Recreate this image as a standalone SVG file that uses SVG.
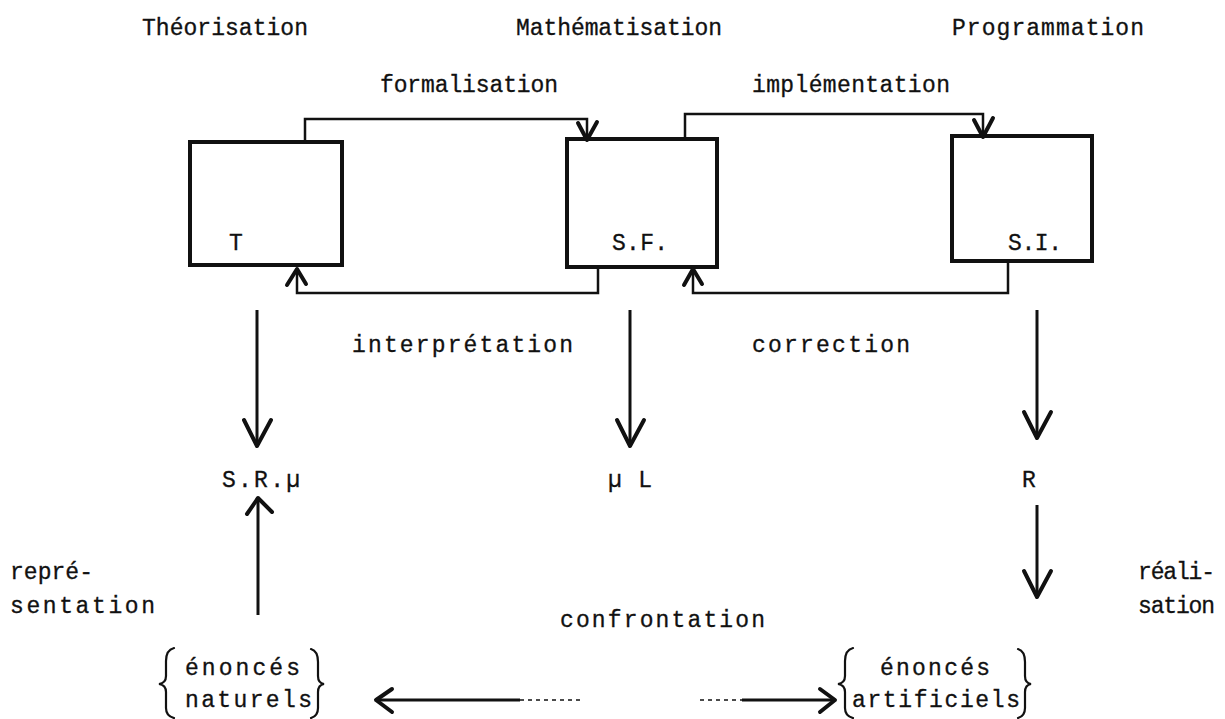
<svg xmlns="http://www.w3.org/2000/svg" width="1225" height="719" viewBox="0 0 1225 719">
  <style>
    text { font-family: "Liberation Mono", "DejaVu Sans Mono", monospace; font-size: 23px; fill: #111; stroke: #111; stroke-width: 0.3; }
    .low { font-size: 23px; }
    .box { fill: none; stroke: #111; stroke-width: 4; stroke-linejoin: miter; }
    .wire { fill: none; stroke: #111; stroke-width: 2.5; }
    .shaft { fill: none; stroke: #111; stroke-width: 3; }
    .head { fill: none; stroke: #111; stroke-width: 4; stroke-linecap: round; stroke-linejoin: round; }
    .brace { fill: none; stroke: #111; stroke-width: 2.2; stroke-linecap: round; }
    .dash { fill: none; stroke: #111; stroke-width: 1.6; stroke-dasharray: 4 4; }
  </style>
  <rect width="1225" height="719" fill="#ffffff"/>

  <!-- column headings -->
  <g id="headings">
    <text x="142" y="35" textLength="166" lengthAdjust="spacing">Théorisation</text>
    <text x="516" y="35" textLength="206" lengthAdjust="spacing">Mathématisation</text>
    <text x="952" y="35" textLength="192" lengthAdjust="spacing">Programmation</text>
  </g>

  <!-- boxes -->
  <g id="node-T">
    <rect class="box" x="190" y="142" width="152" height="123"/>
    <text x="229" y="250">T</text>
  </g>
  <g id="node-SF">
    <rect class="box" x="567" y="139" width="150" height="128"/>
    <text x="612" y="250" textLength="56" lengthAdjust="spacing">S.F.</text>
  </g>
  <g id="node-SI">
    <rect class="box" x="952" y="136" width="140" height="125"/>
    <text x="1008" y="250" textLength="54" lengthAdjust="spacing">S.I.</text>
  </g>

  <!-- intermediate results -->
  <g id="node-SRmu">
    <text x="222" y="487" textLength="78" lengthAdjust="spacing">S.R.µ</text>
  </g>
  <g id="node-muL">
    <text x="608" y="487" textLength="44" lengthAdjust="spacing">µ L</text>
  </g>
  <g id="node-R">
    <text x="1022" y="487">R</text>
  </g>

  <!-- statement groups -->
  <g id="node-naturels">
    <text class="low" x="185" y="675" textLength="115" lengthAdjust="spacing">énoncés</text>
    <text class="low" x="185" y="707" textLength="127" lengthAdjust="spacing">naturels</text>
    <path class="brace" d="M174 648 Q166 650 166 661 L166 676 Q166 683 159 684 Q166 685 166 692 L166 708 Q166 716 174 718"/>
    <path class="brace" d="M311 649 Q318 651 318 662 L318 676 Q318 683 324 684 Q318 685 318 692 L318 708 Q318 716 311 718"/>
  </g>
  <g id="node-artificiels">
    <text class="low" x="880" y="675" textLength="110" lengthAdjust="spacing">énoncés</text>
    <text class="low" x="852" y="707" textLength="168" lengthAdjust="spacing">artificiels</text>
    <path class="brace" d="M853 648 Q845 650 845 661 L845 676 Q845 683 838 684 Q845 685 845 692 L845 708 Q845 716 853 718"/>
    <path class="brace" d="M1018 649 Q1025 651 1025 662 L1025 676 Q1025 683 1031 684 Q1025 685 1025 692 L1025 708 Q1025 716 1018 718"/>
  </g>

  <!-- connectors -->
  <g id="connectors">
    <!-- formalisation -->
    <path class="wire" d="M305 142 L305 119 L587 119 L587 139"/>
    <path class="head" d="M578 123 L587 140 L597 122"/>
    <!-- implementation -->
    <path class="wire" d="M685 139 L685 114 L983 114 L983 136"/>
    <path class="head" d="M974 120 L983 137 L993 118"/>
    <!-- interpretation -->
    <path class="wire" d="M598 267 L598 293 L297 293 L297 268"/>
    <path class="head" d="M287 285 L297 269 L306 284"/>
    <!-- correction -->
    <path class="wire" d="M1008 261 L1008 293 L693 293 L693 268"/>
    <path class="head" d="M684 285 L693 269 L702 284"/>

    <!-- descending arrows -->
    <path class="shaft" d="M257 310 L257 446"/>
    <path class="head" d="M244 420 L257 446 L271 420"/>
    <path class="shaft" d="M630 310 L630 446"/>
    <path class="head" d="M617 420 L630 446 L644 420"/>
    <path class="shaft" d="M1037 310 L1037 438"/>
    <path class="head" d="M1024 412 L1037 438 L1051 412"/>
    <path class="shaft" d="M1037 505 L1037 597"/>
    <path class="head" d="M1024 571 L1037 597 L1051 571"/>

    <!-- representation (upward) -->
    <path class="shaft" d="M258 615 L258 499"/>
    <path class="head" d="M247 514 L258 498 L272 512"/>

    <!-- confrontation -->
    <path class="shaft" d="M376 700 L520 700"/>
    <path class="dash" d="M520 700 L580 700"/>
    <path class="head" d="M392 689 L376 700 L392 712"/>
    <path class="dash" d="M700 700 L742 700"/>
    <path class="shaft" d="M742 700 L834 700"/>
    <path class="head" d="M820 689 L835 700 L820 712"/>
  </g>

  <!-- arrow labels -->
  <g id="labels">
    <text x="380" y="92" textLength="178" lengthAdjust="spacing">formalisation</text>
    <text x="752" y="92" textLength="198" lengthAdjust="spacing">implémentation</text>
    <text x="352" y="352" textLength="221" lengthAdjust="spacing">interprétation</text>
    <text x="752" y="352" textLength="158" lengthAdjust="spacing">correction</text>
    <text x="10" y="579" textLength="83" lengthAdjust="spacing">repré-</text>
    <text x="10" y="613" textLength="145" lengthAdjust="spacing">sentation</text>
    <text class="low" x="560" y="627" textLength="205" lengthAdjust="spacing">confrontation</text>
    <text class="low" x="1138" y="579" textLength="77" lengthAdjust="spacing">réali-</text>
    <text class="low" x="1138" y="613" textLength="77" lengthAdjust="spacing">sation</text>
  </g>
</svg>
